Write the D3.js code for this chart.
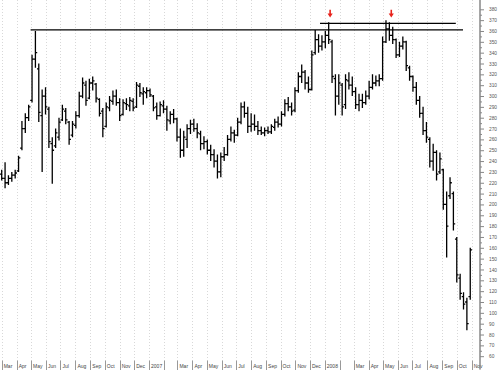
<!DOCTYPE html>
<html><head><meta charset="utf-8">
<script src="https://cdn.jsdelivr.net/npm/d3@7"></script>
<style>html,body{margin:0;padding:0;background:#fff;}svg{display:block;}</style>
</head><body>
<svg id="chart" width="500" height="370"></svg>
<script>
// Weekly OHLC bars (one per week, dated on Wednesdays starting 2006-03-01)
const firstBarDate = "2006-03-01";
const opens  = [228,224,220,224,227,231,252,270,280,296,334,325,282,300,288,256,254,262,278,286,276,264,273,282,300,310,298,312,311,297,286,272,289,295,300,294,283,293,291,295,290,309,302,303,305,300,290,282,291,288,277,283,279,262,250,260,270,274,270,265,256,258,250,246,240,230,244,246,260,266,264,276,290,284,272,274,272,268,266,268,267,271,276,274,283,293,290,287,305,318,322,312,306,340,352,346,350,356,350,316,300,310,292,314,310,304,292,296,294,300,308,312,314,316,350,362,356,352,338,346,350,326,318,308,296,284,268,260,240,248,230,232,200,208,210,168,132,115,110,115];
const highs  = [232,239,227,230,232,245,277,284,292,338,360,330,306,308,290,262,270,280,292,289,277,277,286,304,317,314,316,318,312,298,289,294,300,305,306,298,297,298,299,298,313,312,308,308,307,301,294,295,296,291,286,288,280,270,268,274,278,279,275,268,263,260,255,251,246,248,253,264,272,269,280,294,295,290,284,283,277,272,271,272,274,279,281,286,297,299,294,308,322,329,324,318,342,361,357,356,360,368,352,320,320,312,320,322,318,308,302,302,305,314,320,319,320,355,370,368,364,353,350,355,351,328,319,313,300,290,276,262,256,250,248,233,212,225,212,170,136,119,114,160];
const lows   = [222,215,218,221,224,230,250,266,277,294,326,276,230,283,252,219,252,259,277,274,255,262,270,280,298,291,297,305,294,281,262,271,286,292,291,277,282,287,286,286,289,299,292,298,299,286,278,281,284,268,274,275,258,243,244,252,265,267,261,250,251,246,240,234,224,225,240,245,258,257,263,274,280,266,267,268,264,264,263,265,265,268,271,272,281,286,282,285,303,312,306,303,305,338,340,342,344,348,312,282,292,282,288,306,300,288,286,289,292,297,306,309,309,314,349,351,348,335,336,343,323,314,304,292,280,264,257,234,231,222,228,195,151,205,176,128,112,103,84,112];
const closes = [224,220,224,227,229,243,270,280,290,334,340,285,300,290,258,250,266,276,288,278,260,274,282,300,312,296,312,314,298,284,270,290,296,300,294,282,294,292,296,289,310,303,304,305,301,289,282,292,288,278,283,279,262,250,262,270,274,270,266,256,258,250,246,240,230,244,246,260,266,264,276,290,284,272,274,272,268,266,268,267,272,276,274,283,293,290,286,305,318,322,312,306,338,352,346,350,356,352,318,300,312,290,315,310,304,292,296,294,300,308,312,314,316,350,362,356,352,338,346,350,328,318,308,296,284,268,262,240,248,228,242,200,180,220,182,135,118,108,90,158];

// Month axis labels, Mar 2006 .. Nov 2008 ("" = no label shown)
const monthLabels = ["Mar","Apr","May","Jun","Jul","Aug","Sep","Oct","Nov","Dec",
  "2007","","Mar","Apr","May","Jun","Jul","Aug","Sep","Oct","Nov","Dec",
  "2008","","Mar","Apr","May","Jun","Jul","Aug","Sep","Oct","Nov"];
const yTicks = d3.range(60, 381, 10);

// Resistance lines and marker arrows
const lineStart = ["2006-04-30","2007-12-22"];
const lineEnd   = ["2008-10-14","2008-09-29"];
const lineLevel = [361, 367];
const arrowDates = ["2008-01-12","2008-05-18"];
const arrowTip = 372.5, arrowTop = 379.5;

const parse = d3.utcParse("%Y-%m-%d");
const start = parse(firstBarDate);
const bars = opens.map((o,i)=>({date:d3.utcDay.offset(start, 7*i), o, h:highs[i], l:lows[i], c:closes[i]}));

const svg = d3.select("#chart");
const x = d3.scaleUtc().domain([new Date(Date.UTC(2006,2,1)), new Date(Date.UTC(2008,10,1))]).range([1.7, 471.7]);
const y = d3.scaleLinear().domain([60,380]).range([356.2, 9.3]);
const axisX = 480, plotBottom = 360.5;

const months = d3.utcMonth.range(new Date(Date.UTC(2006,2,1)), new Date(Date.UTC(2008,10,2)));

// vertical dotted gridlines
svg.append("g").selectAll("line").data(months).join("line")
  .attr("x1", d=>Math.round(x(d))+0.5).attr("x2", d=>Math.round(x(d))+0.5)
  .attr("y1", 0).attr("y2", plotBottom)
  .attr("stroke", "#d8d8d8").attr("stroke-width", 1).attr("stroke-dasharray", "1,2");

// bottom label row
const lab = svg.append("g").attr("font-family","Liberation Sans, Arial, sans-serif").attr("font-size", 5).attr("fill","#444");
lab.selectAll("line.sep").data(months).join("line").attr("class","sep")
  .attr("x1", d=>Math.round(x(d))+0.5).attr("x2", d=>Math.round(x(d))+0.5)
  .attr("y1", plotBottom).attr("y2", 370).attr("stroke","#999");
lab.selectAll("text").data(months).join("text")
  .attr("x", d=>x(d)+2).attr("y", 367.5)
  .text((d,i)=>monthLabels[i]);

// right axis
const gy = svg.append("g").attr("transform", `translate(${axisX},0)`);
gy.call(d3.axisRight(y).tickValues(yTicks).tickSize(4).tickPadding(5).tickFormat(d3.format("d")));
gy.append("g").call(d3.axisRight(y).tickValues(d3.range(65,380,10)).tickSize(2).tickFormat(""));
gy.selectAll(".domain").attr("stroke","#888").attr("d", `M0,0V${plotBottom+9}`);
gy.selectAll(".tick line").attr("stroke","#888");
gy.selectAll(".tick text").attr("fill","#555").attr("font-size",4.8).attr("font-family","Liberation Sans, Arial, sans-serif");

// OHLC bars
const g = svg.append("g").attr("stroke","#000").attr("stroke-width",1.3);
g.selectAll("path").data(bars).join("path")
  .attr("d", d=>{
    const cx = x(d.date);
    return `M${cx},${y(d.h)}V${y(d.l)}M${cx-1.8},${y(d.o)}H${cx}M${cx},${y(d.c)}H${cx+1.8}`;
  });

// resistance lines
svg.append("g").selectAll("line").data(lineLevel).join("line")
  .attr("x1",(d,i)=>x(parse(lineStart[i]))).attr("x2",(d,i)=>x(parse(lineEnd[i])))
  .attr("y1",d=>y(d)).attr("y2",d=>y(d))
  .attr("stroke","#000").attr("stroke-width",1.1);

// red arrows
svg.append("g").selectAll("path").data(arrowDates).join("path")
  .attr("d", d=>{
    const cx = x(parse(d)), yt = y(arrowTop), yp = y(arrowTip), yh = yp - 4;
    return `M${cx-0.8},${yt}H${cx+0.8}V${yh}H${cx+2.6}L${cx},${yp}L${cx-2.6},${yh}H${cx-0.8}Z`;
  })
  .attr("fill","#e8231c");
</script>
</body></html>
